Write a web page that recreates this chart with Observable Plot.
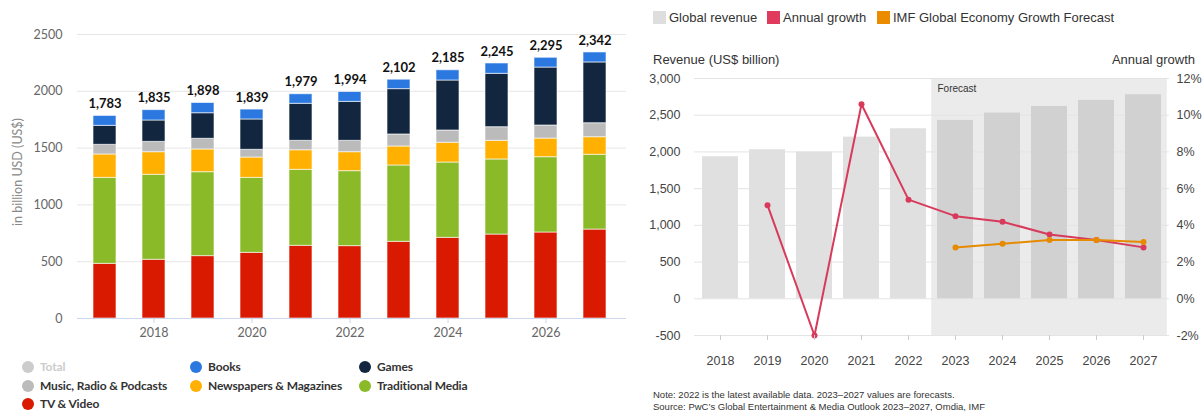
<!DOCTYPE html>
<html><head><meta charset="utf-8">
<script src="https://cdn.jsdelivr.net/npm/d3@7"></script>
<script src="https://cdn.jsdelivr.net/npm/@observablehq/plot@0.6"></script>
<style>
body{margin:0;width:1202px;height:412px;position:relative;overflow:hidden;background:#fff}
.abs{position:absolute}
#left,#right{position:absolute}
#left{left:0;top:0}
#right{left:640px;top:65px}
.lg{position:absolute;font-family:Lato,sans-serif;font-weight:bold;font-size:12px;letter-spacing:-0.15px;color:#333;white-space:nowrap;line-height:16px}
.lg i{position:absolute;left:-18px;top:2px;width:12px;height:12px;border-radius:50%}
.rl{position:absolute;font-family:"Liberation Sans",Arial,sans-serif;font-size:13px;color:#333;white-space:nowrap;line-height:15px}
.rl i{position:absolute;left:-16px;top:1px;width:13px;height:13px}
.note{position:absolute;left:653px;font-family:"Liberation Sans",Arial,sans-serif;font-size:9.5px;color:#333;white-space:nowrap}
</style></head><body>
<div id="left"></div>
<div id="ylab" class="abs" style="left:17px;top:172px;transform:translate(-50%,-50%) rotate(-90deg);font-family:Lato,sans-serif;font-size:12.5px;color:#888;white-space:nowrap">in billion USD (US$)</div>
<div id="legL"></div>
<div id="right"></div>
<div id="legR"></div>
<div class="rl" style="left:653px;top:52px">Revenue (US$ billion)</div>
<div class="rl" style="right:7px;top:52px">Annual growth</div>
<div class="note" style="top:389px">Note: 2022 is the latest available data. 2023–2027 values are forecasts.</div>
<div class="note" style="top:401px">Source: PwC’s Global Entertainment &amp; Media Outlook 2023–2027, Omdia, IMF</div>
<script>
// ---------- Left chart data ----------
const years = [2017,2018,2019,2020,2021,2022,2023,2024,2025,2026,2027];
const categories = ["TV & Video","Traditional Media","Newspapers & Magazines","Music, Radio & Podcasts","Games","Books"];
const catColors = ["#d91a00","#8aba28","#ffb000","#bbbbbb","#12263f","#2b79e0"];
const tvVideo   = [481,517,549,578,640,637,675,710,739,757,783];
const tradMedia = [757,748,739,660,669,660,672,663,661,663,658];
const newspapers= [206,199,200,179,172,167,167,174,164,164,155];
const music     = [85,91,94,68,83,100,106,108,120,115,123];
const games     = [167,188,225,267,326,343,399,440,470,510,535];
const books     = [87,91,90,87,84,87,83,90,91,86,88];
const totals    = [1783,1835,1898,1839,1979,1994,2102,2185,2245,2295,2342];
const leftYTicks = [0,500,1000,1500,2000,2500];
const leftXTicks = [2018,2020,2022,2024,2026];

// ---------- Right chart data ----------
const rYears  = [2018,2019,2020,2021,2022,2023,2024,2025,2026,2027];
const revenue = [1935,2030,1998,2202,2316,2429,2529,2620,2702,2779];
const growth  = [null,5.1,-2.0,10.6,5.4,4.5,4.2,3.5,3.2,2.8];
const imf     = [null,null,null,null,null,2.8,3.0,3.2,3.2,3.1];
const forecastYears = [2023,2024,2025,2026,2027];
const rightYTicks = [-500,0,500,1000,1500,2000,2500,3000];

// ---------- Left chart ----------
const series = [tvVideo,tradMedia,newspapers,music,games,books];
const table = [];
years.forEach((y,i)=>categories.forEach((c,j)=>table.push({year:y,cat:c,value:series[j][i]})));
const totTable = years.map((y,i)=>({year:y,total:totals[i]}));

const left = Plot.plot({
  width:635,height:345,marginLeft:80,marginRight:15,marginTop:34,marginBottom:27,
  style:{fontFamily:"Lato, sans-serif",background:"transparent"},
  x:{type:"band",domain:years,paddingInner:0.53,paddingOuter:0.265,label:null},
  y:{domain:[0,2500],label:null},
  color:{domain:categories,range:catColors},
  marks:[
    Plot.ruleY(leftYTicks.slice(1),{stroke:"#e6e6e6",insetLeft:-3,insetRight:-6}),
    Plot.barY(table,{x:"year",y:"value",fill:"cat",order:categories,stroke:"#fff",strokeOpacity:0.6,strokeWidth:1}),
    Plot.ruleY([0],{stroke:"#ccd6eb",insetLeft:-3,insetRight:-6}),
    Plot.text(totTable,{x:"year",y:"total",text:d=>d3.format(",")(d.total),dy:-12,fontWeight:"bold",fontSize:13,fill:"#111"}),
    Plot.axisX({ticks:leftXTicks,tickSize:5,stroke:"#ccd6eb",fill:"#666",fontSize:12.5,tickPadding:5,tickFormat:d=>String(d),label:null}),
    Plot.axisY({ticks:leftYTicks,tickSize:0,tickPadding:18,fill:"#666",fontSize:12.5,tickFormat:d=>String(d),label:null})
  ]
});
document.getElementById("left").appendChild(left);

// left legend
const legItems = [
  {t:"Total",c:"#cccccc",x:40,y:359,muted:true},
  {t:"Books",c:catColors[5],x:208,y:359},
  {t:"Games",c:catColors[4],x:377,y:359},
  {t:"Music, Radio & Podcasts",c:catColors[3],x:40,y:378},
  {t:"Newspapers & Magazines",c:catColors[2],x:208,y:378},
  {t:"Traditional Media",c:catColors[1],x:377,y:378},
  {t:"TV & Video",c:catColors[0],x:40,y:396}
];
const legL = document.getElementById("legL");
legItems.forEach(d=>{
  const el=document.createElement("div");el.className="lg";
  el.style.left=d.x+"px";el.style.top=d.y+"px";
  if(d.muted) el.style.color="#cccccc";
  el.innerHTML=`<i style="background:${d.c}"></i>`;
  el.appendChild(document.createTextNode(d.t));
  legL.appendChild(el);
});

// ---------- Right chart ----------
const K = 250; // 1% growth = 250 on revenue axis
const revTable = rYears.map((y,i)=>({year:y,rev:revenue[i],fc:y>=2023}));
const gTable = rYears.map((y,i)=>({year:y,g:growth[i]})).filter(d=>d.g!=null);
const iTable = rYears.map((y,i)=>({year:y,g:imf[i]})).filter(d=>d.g!=null);

const right = Plot.plot({
  width:562,height:310,marginLeft:54,marginRight:33,marginTop:13,marginBottom:40,
  style:{fontFamily:"'Liberation Sans', Arial, sans-serif",background:"transparent"},
  x:{type:"band",domain:rYears,paddingInner:0.24,paddingOuter:0.12,label:null},
  y:{domain:[-500,3000],label:null},
  color:{type:"identity"},
  marks:[
    Plot.barY(forecastYears,{x:d=>d,y1:-500,y2:3000,fill:"#ebebeb",insetLeft:-5.8,insetRight:-5.8}),
    Plot.ruleY(rightYTicks,{stroke:"#e4e4e4"}),
    Plot.barY(revTable,{x:"year",y:"rev",fill:d=>d.fc?"#d1d1d1":"#e0e0e0"}),
    Plot.line(gTable,{x:"year",y:d=>d.g*K,stroke:"#d83a5b",strokeWidth:2}),
    Plot.dot(gTable,{x:"year",y:d=>d.g*K,r:3,fill:"#d83a5b"}),
    Plot.line(iTable,{x:"year",y:d=>d.g*K,stroke:"#e68a00",strokeWidth:2}),
    Plot.dot(iTable,{x:"year",y:d=>d.g*K,r:3,fill:"#e68a00"}),
    Plot.text(["Forecast"],{x:()=>2023,y:()=>3000,text:d=>d,dx:-18,dy:10,textAnchor:"start",fontSize:10,fill:"#333"}),
    Plot.axisX({tickSize:5,stroke:"#cccccc",fill:"#444",fontSize:12.5,tickPadding:16,tickFormat:d=>String(d),label:null}),
    Plot.axisY({ticks:rightYTicks,anchor:"left",tickSize:0,tickPadding:14,fill:"#444",fontSize:12.5,tickFormat:d=>d.toLocaleString("en-US"),label:null}),
    Plot.axisY({ticks:rightYTicks,anchor:"right",tickSize:0,tickPadding:7,fill:"#444",fontSize:12.5,tickFormat:d=>(d/K)+"%",label:null})
  ]
});
document.getElementById("right").appendChild(right);

const rItems=[{t:"Global revenue",c:"#dedede",x:669},{t:"Annual growth",c:"#e03a5c",x:783},{t:"IMF Global Economy Growth Forecast",c:"#eb8c00",x:893}];
const legR=document.getElementById("legR");
rItems.forEach(d=>{
  const el=document.createElement("div");el.className="rl";
  el.style.left=d.x+"px";el.style.top="10px";
  el.innerHTML=`<i style="background:${d.c}"></i>`;
  el.appendChild(document.createTextNode(d.t));
  legR.appendChild(el);
});
</script>
</body></html>
